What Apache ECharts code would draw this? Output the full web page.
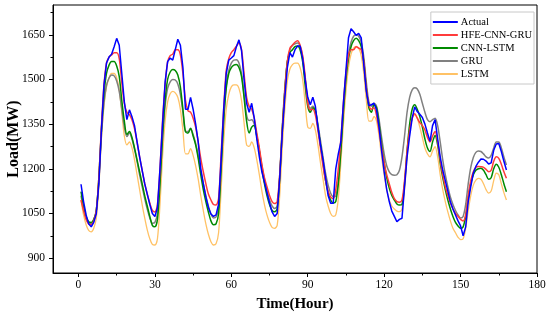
<!DOCTYPE html>
<html>
<head>
<meta charset="utf-8">
<script src="https://cdn.jsdelivr.net/npm/echarts@6/dist/echarts.min.js"></script>
<style>html,body{margin:0;padding:0;background:#fff}#c{width:550px;height:320px}</style>
</head>
<body>
<div id="c"></div>
<script>
const seriesNames = ['Actual', 'HFE-CNN-GRU', 'CNN-LSTM', 'GRU', 'LSTM'];
const xTicks = [0, 30, 60, 90, 120, 150, 180];
const yTicks = [900, 1050, 1200, 1350, 1500, 1650];

const actual = [
1148,1090,1045,1015,1005,1020,1050,1150,1330,1480,1555,1575,1585,1610,1638,1615,1520,1425,1365,1398,1375,1345,1290,1240,
1195,1150,1115,1080,1050,1040,1070,1200,1350,1490,1560,1572,1565,1600,1635,1615,1540,1400,1400,1440,1400,1350,1290,1200,
1150,1105,1070,1048,1040,1045,1080,1230,1400,1520,1565,1572,1580,1610,1633,1598,1500,1420,1390,1420,1370,1300,1240,1190,
1155,1120,1085,1055,1040,1050,1170,1320,1440,1540,1590,1575,1600,1612,1612,1570,1500,1440,1415,1440,1410,1340,1280,1230,
1170,1110,1084,1084,1200,1250,1290,1420,1530,1640,1670,1660,1648,1655,1640,1550,1460,1412,1415,1420,1398,1340,1260,1190,
1130,1090,1058,1040,1022,1030,1034,1140,1240,1310,1370,1408,1392,1383,1372,1350,1320,1292,1345,1365,1300,1240,1195,1160,
1125,1089,1065,1045,1025,1008,975,1005,1090,1140,1185,1208,1222,1233,1232,1226,1216,1220,1262,1283,1285,1258,1225,1196
];
const hfe = [
1095,1060,1030,1015,1012,1025,1060,1170,1340,1480,1555,1575,1582,1590,1590,1570,1490,1420,1390,1382,1365,1335,1290,1240,
1195,1150,1115,1085,1060,1055,1080,1200,1360,1480,1560,1580,1585,1600,1600,1583,1520,1430,1395,1390,1370,1340,1290,1235,
1190,1150,1115,1095,1080,1078,1100,1250,1400,1530,1570,1590,1600,1612,1622,1600,1520,1440,1410,1400,1370,1320,1270,1215,
1170,1140,1110,1090,1083,1090,1180,1330,1460,1560,1605,1615,1625,1630,1615,1580,1510,1420,1398,1400,1380,1330,1270,1210,
1160,1125,1105,1100,1130,1200,1300,1420,1520,1580,1600,1600,1610,1605,1600,1560,1470,1415,1400,1405,1380,1330,1270,1220,
1180,1150,1120,1100,1090,1088,1095,1160,1260,1330,1370,1385,1370,1355,1345,1330,1305,1290,1310,1325,1290,1230,1180,1140,
1110,1085,1065,1050,1040,1030,1025,1045,1110,1160,1190,1205,1208,1207,1205,1198,1190,1195,1225,1240,1235,1215,1190,1168
];
const cnnLstm = [
1123,1075,1040,1022,1020,1030,1060,1170,1330,1450,1520,1548,1560,1560,1545,1510,1430,1360,1315,1325,1305,1270,1230,1190,
1150,1110,1075,1040,1010,1005,1030,1150,1310,1430,1500,1525,1533,1530,1515,1475,1400,1325,1320,1335,1310,1280,1235,1180,
1130,1090,1055,1025,1012,1015,1050,1200,1360,1470,1520,1540,1548,1550,1540,1510,1440,1360,1320,1340,1345,1310,1260,1200,
1150,1110,1080,1060,1056,1065,1170,1330,1460,1560,1590,1600,1610,1612,1600,1560,1480,1410,1390,1405,1395,1340,1280,1220,
1160,1120,1095,1085,1090,1150,1260,1390,1500,1570,1610,1630,1638,1630,1610,1560,1470,1405,1390,1415,1405,1350,1280,1220,
1170,1135,1110,1095,1082,1078,1080,1150,1260,1350,1400,1415,1400,1375,1340,1300,1270,1258,1290,1312,1280,1220,1170,1130,
1095,1065,1040,1020,1008,1000,1005,1040,1100,1150,1180,1195,1200,1202,1195,1180,1165,1170,1200,1215,1205,1180,1150,1123
];
const gru = [
1110,1065,1035,1018,1015,1028,1060,1160,1310,1420,1480,1505,1515,1512,1495,1460,1400,1340,1308,1320,1300,1265,1225,1180,
1140,1100,1065,1035,1017,1020,1050,1160,1300,1410,1470,1492,1500,1498,1485,1450,1390,1325,1325,1336,1315,1285,1245,1195,
1150,1110,1075,1048,1035,1038,1070,1210,1370,1480,1530,1555,1565,1566,1555,1520,1450,1380,1362,1365,1350,1310,1260,1210,
1165,1125,1095,1075,1067,1075,1180,1340,1470,1560,1600,1615,1620,1622,1612,1575,1500,1430,1403,1410,1395,1350,1295,1240,
1185,1145,1118,1106,1108,1160,1270,1400,1510,1585,1625,1645,1650,1645,1625,1575,1490,1425,1410,1420,1410,1365,1305,1250,
1210,1190,1180,1178,1180,1195,1240,1310,1390,1440,1465,1472,1468,1450,1420,1390,1365,1358,1365,1370,1345,1290,1230,1180,
1140,1105,1080,1060,1045,1035,1040,1080,1150,1205,1238,1255,1260,1258,1250,1240,1236,1245,1270,1290,1290,1270,1240,1213
];
const lstm = [
1095,1045,1012,993,988,1000,1035,1140,1300,1410,1475,1505,1520,1520,1505,1465,1390,1310,1280,1290,1270,1230,1180,1130,
1080,1035,995,965,946,944,965,1080,1240,1360,1425,1452,1460,1455,1440,1400,1330,1250,1250,1268,1245,1210,1165,1110,
1060,1015,980,955,944,948,985,1130,1290,1400,1450,1475,1482,1482,1470,1430,1355,1280,1275,1290,1270,1230,1180,1125,
1080,1045,1020,1003,1000,1010,1110,1270,1400,1495,1535,1550,1555,1555,1540,1500,1420,1340,1336,1352,1330,1280,1220,1165,
1110,1075,1050,1040,1045,1100,1220,1350,1460,1540,1585,1605,1611,1605,1580,1520,1430,1360,1360,1375,1360,1310,1240,1180,
1130,1095,1075,1065,1058,1056,1065,1130,1240,1330,1370,1381,1370,1340,1305,1270,1250,1240,1260,1274,1240,1180,1130,1090,
1055,1025,1000,985,970,962,965,1000,1060,1110,1145,1162,1168,1165,1150,1130,1118,1125,1160,1185,1180,1150,1120,1095
];

const toPairs = arr => arr.map((v, i) => [i + 1, v]);
const font = '"Liberation Serif", "Times New Roman", serif';
const colors = {
  'Actual': '#0000ff', 'HFE-CNN-GRU': '#ff3b3b', 'CNN-LSTM': '#008a00', 'GRU': '#808080', 'LSTM': '#ffc266'
};
const dataMap = { 'Actual': actual, 'HFE-CNN-GRU': hfe, 'CNN-LSTM': cnnLstm, 'GRU': gru, 'LSTM': lstm };
const drawOrder = ['LSTM', 'GRU', 'CNN-LSTM', 'HFE-CNN-GRU', 'Actual'];

const xMinor = xTicks.slice(0, -1).map(t => t + 15);
const yMinor = yTicks.map(t => t + 75);

const chart = echarts.init(document.getElementById('c'), null, { renderer: 'canvas' });
chart.setOption({
  animation: false,
  backgroundColor: '#fff',
  grid: { left: 53, right: 13, top: 5, bottom: 47, show: true, borderColor: '#000', borderWidth: 1,
          containLabel: false, outerBoundsMode: 'none' },
  legend: {
    data: seriesNames.map(n => ({ name: n, icon: 'rect', itemStyle: { color: colors[n] } })),
    orient: 'vertical', right: 16, top: 12,
    padding: [4, 2, 4, 2], itemGap: 1, itemWidth: 25, itemHeight: 2,
    borderColor: '#c8c8c8', borderWidth: 1, backgroundColor: '#fff',
    textStyle: { fontFamily: font, fontSize: 10.5, color: '#000', padding: [0, 0, 0, -2], lineHeight: 12 }
  },
  xAxis: [{
    type: 'value', min: -10, max: 180,
    name: 'Time(Hour)', nameLocation: 'middle', nameGap: 24, nameMoveOverlap: false,
    nameTextStyle: { fontFamily: font, fontSize: 15, fontWeight: 'bold', color: '#000' },
    axisLine: { onZero: false, lineStyle: { color: '#000', width: 1 } },
    axisTick: { show: true, inside: false, length: 4, customValues: xTicks, lineStyle: { color: '#000' } },
    axisLabel: { customValues: xTicks, margin: 6, fontFamily: font, fontSize: 11.5, color: '#000' },
    splitLine: { show: false }
  }, {
    type: 'value', min: -10, max: 180, position: 'bottom',
    axisLine: { show: false, onZero: false },
    axisTick: { show: true, length: 2.5, customValues: xMinor, lineStyle: { color: '#000' } },
    axisLabel: { show: false }, splitLine: { show: false }
  }],
  yAxis: [{
    type: 'value', min: 850, max: 1750,
    name: 'Load(MW)', nameLocation: 'middle', nameGap: 31, nameRotate: 90, nameMoveOverlap: false,
    nameTextStyle: { fontFamily: font, fontSize: 16, fontWeight: 'bold', color: '#000' },
    axisLine: { show: true, onZero: false, lineStyle: { color: '#000', width: 1 } },
    axisTick: { show: true, inside: false, length: 4, customValues: yTicks, lineStyle: { color: '#000' } },
    axisLabel: { customValues: yTicks, margin: 8, fontFamily: font, fontSize: 11.5, color: '#000', formatter: v => String(v) },
    splitLine: { show: false }
  }, {
    type: 'value', min: 850, max: 1750, position: 'left',
    axisLine: { show: false, onZero: false },
    axisTick: { show: true, length: 2.5, customValues: yMinor, lineStyle: { color: '#000' } },
    axisLabel: { show: false }, splitLine: { show: false }
  }],
  series: drawOrder.map(name => ({
    name: name, type: 'line', xAxisIndex: 0, yAxisIndex: 0,
    data: toPairs(dataMap[name]),
    symbol: 'none', smooth: name === 'Actual' ? false : 0.3,
    lineStyle: { color: colors[name], width: name === 'LSTM' ? 1.3 : 1.5 },
    itemStyle: { color: colors[name] }
  }))
});
</script>
</body>
</html>
